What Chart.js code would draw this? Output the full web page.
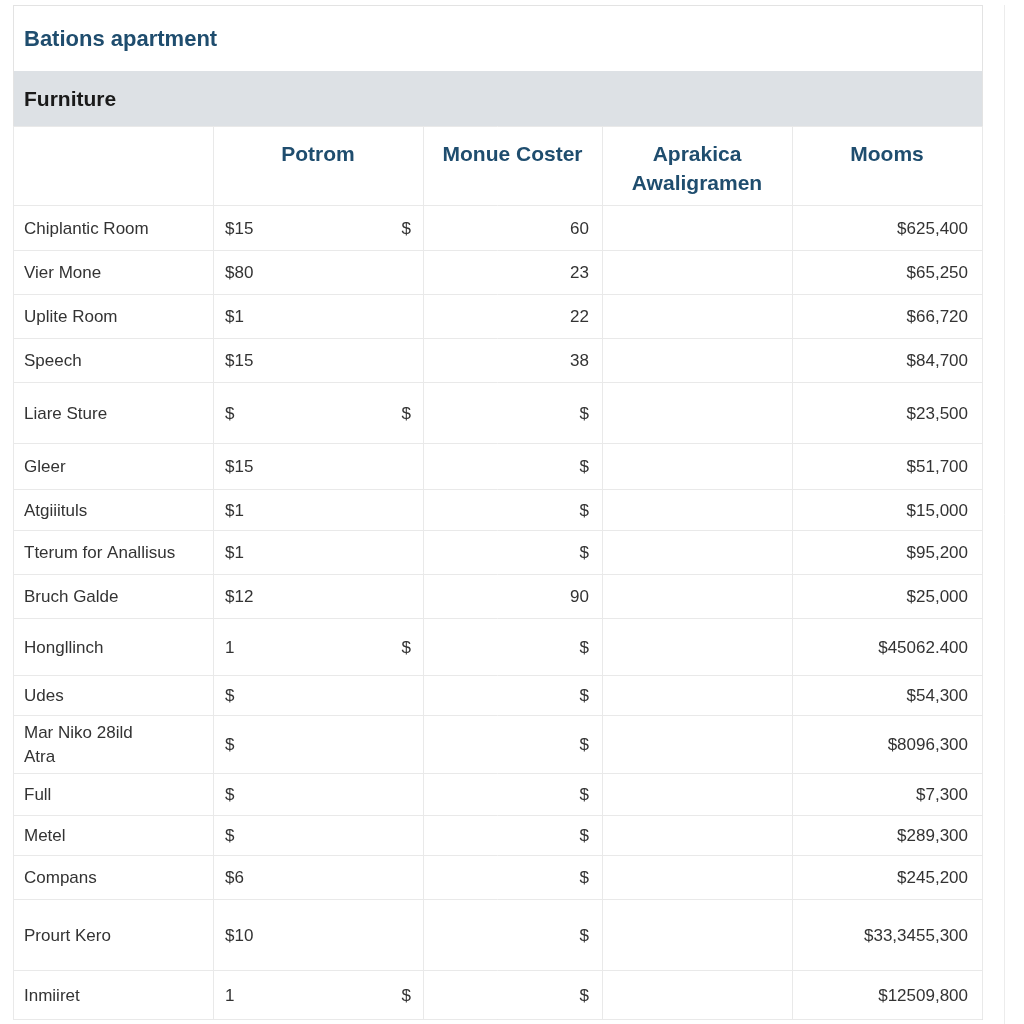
<!DOCTYPE html>
<html>
<head>
<meta charset="utf-8">
<title>Bations apartment</title>
<script src="https://cdn.jsdelivr.net/npm/chart.js@4.4.0/dist/chart.umd.min.js"></script>
<style>
  html, body { margin: 0; padding: 0; background: #ffffff; }
  #wrap { width: 1024px; height: 1024px; }
</style>
</head>
<body>
<div id="wrap"><canvas id="tableChart" width="1024" height="1024"></canvas></div>
<script>
// ---- table content ----
var tableTitle = "Bations apartment";
var sectionTitle = "Furniture";
var columnHeaders = ["", "Potrom", "Monue Coster", "Aprakica\nAwaligramen", "Mooms"];

var rowLabels = [
    "Chiplantic Room", "Vier Mone", "Uplite Room", "Speech", "Liare Sture",
    "Gleer", "Atgiiituls", "Tterum for Anallisus", "Bruch Galde", "Hongllinch",
    "Udes", "Mar Niko 28ild\nAtra", "Full", "Metel", "Compans",
    "Prourt Kero", "Inmiiret"
];
var potrom = ["$15", "$80", "$1", "$15", "$", "$15", "$1", "$1", "$12", "1",
    "$", "$", "$", "$", "$6", "$10", "1"];
var potromMark = ["$", "", "", "", "$", "", "", "", "", "$",
    "", "", "", "", "", "", "$"];
var monueCoster = ["60", "23", "22", "38", "$", "$", "$", "$", "90", "$",
    "$", "$", "$", "$", "$", "$", "$"];
var aprakica = ["", "", "", "", "", "", "", "", "", "",
    "", "", "", "", "", "", ""];
var mooms = ["$625,400", "$65,250", "$66,720", "$84,700", "$23,500", "$51,700",
    "$15,000", "$95,200", "$25,000", "$45062.400", "$54,300", "$8096,300",
    "$7,300", "$289,300", "$245,200", "$33,3455,300", "$12509,800"];

// ---- layout (px) ----
var colWidths = [200, 210, 179, 190, 190];
var headerHeight = 79;
var rowHeights = [45, 44, 44, 44, 61, 46, 41, 44, 44, 57, 40, 58, 42, 40, 44, 71, 49];

var BLUE = "#1f4d6e";
var TEXT = "#333333";
var LINE = "#e9e9e9";
var FONT = "'Liberation Sans', Arial, sans-serif";

function cumulative(list, start) {
    let res = [start];
    for (let i = 0; i < list.length; i++) {
        res.push(res[i] + list[i]);
    }
    return res;
}

var colEdges = cumulative(colWidths, 0);
var rowEdges = cumulative(rowHeights, headerHeight);

function rowMid(i) {
    return (rowEdges[i] + rowEdges[i + 1]) / 2;
}

// one invisible scatter series per column, text is painted on its points
function makeColumn(values, xValue, align) {
    return {
        data: values.map(function (v, i) { return { x: xValue, y: rowMid(i) }; }),
        cellText: values,
        align: align,
        pointRadius: 0,
        pointHoverRadius: 0,
        showLine: false
    };
}

var datasets = [
    makeColumn(rowLabels, colEdges[0] + 11, "left"),
    makeColumn(potrom, colEdges[1] + 12, "left"),
    makeColumn(potromMark, colEdges[2] - 12, "right"),
    makeColumn(monueCoster, colEdges[3] - 13, "right"),
    makeColumn(aprakica, (colEdges[3] + colEdges[4]) / 2, "center"),
    makeColumn(mooms, colEdges[5] - 14, "right")
];

var tablePlugin = {
    id: "tablePaint",
    beforeDraw: function (chart) {
        const ctx = chart.ctx;
        const area = chart.chartArea;
        ctx.save();
        ctx.fillStyle = "#ffffff";
        ctx.fillRect(0, 0, chart.width, chart.height);

        // card outline
        ctx.strokeStyle = "#e3e3e3";
        ctx.lineWidth = 1;
        ctx.strokeRect(area.left + 0.5, 5.5, area.right - area.left, area.bottom - 5);

        // neighbour panel edge
        ctx.strokeStyle = "#ececec";
        ctx.beginPath();
        ctx.moveTo(1004.5, 5);
        ctx.lineTo(1004.5, chart.height);
        ctx.stroke();

        // grey section band
        ctx.fillStyle = "#dde1e5";
        ctx.fillRect(area.left + 1, 71, area.right - area.left - 1, area.top - 71);

        ctx.textBaseline = "middle";
        ctx.textAlign = "left";
        ctx.fillStyle = BLUE;
        ctx.font = "bold 22px " + FONT;
        ctx.fillText(tableTitle, area.left + 11, 40);

        ctx.fillStyle = "#1a1a1a";
        ctx.font = "bold 21px " + FONT;
        ctx.fillText(sectionTitle, area.left + 11, 100);
        ctx.restore();
    },
    afterDatasetsDraw: function (chart) {
        const ctx = chart.ctx;
        const xs = chart.scales.x;
        const ys = chart.scales.y;
        ctx.save();
        ctx.textBaseline = "middle";

        // column headers
        ctx.fillStyle = BLUE;
        ctx.font = "bold 21px " + FONT;
        ctx.textAlign = "center";
        let top = ys.getPixelForValue(0);
        for (let c = 0; c < columnHeaders.length; c++) {
            let cx = xs.getPixelForValue((colEdges[c] + colEdges[c + 1]) / 2);
            let lines = columnHeaders[c].split("\n");
            for (let l = 0; l < lines.length; l++) {
                ctx.fillText(lines[l], cx, top + 29 + l * 29);
            }
        }

        // body cells
        ctx.fillStyle = TEXT;
        ctx.font = "17px " + FONT;
        chart.data.datasets.forEach(function (ds, i) {
            let meta = chart.getDatasetMeta(i);
            ctx.textAlign = ds.align;
            meta.data.forEach(function (pt, j) {
                let lines = ds.cellText[j].split("\n");
                let y0 = pt.y + 1.5 - (lines.length - 1) * 12;
                for (let l = 0; l < lines.length; l++) {
                    ctx.fillText(lines[l], pt.x, y0 + l * 24);
                }
            });
        });
        ctx.restore();
    }
};

function axis(maxValue, edges, reverse) {
    return {
        type: "linear",
        min: 0,
        max: maxValue,
        reverse: reverse,
        ticks: { display: false },
        grid: { color: LINE, lineWidth: 1, drawTicks: false },
        border: { display: false },
        afterBuildTicks: function (scale) {
            scale.ticks = edges.map(function (v) { return { value: v }; });
        }
    };
}

const ctx = document.getElementById("tableChart").getContext("2d");
var tableChart = new Chart(ctx, {
    type: "scatter",
    data: { datasets: datasets },
    options: {
        responsive: false,
        devicePixelRatio: 1,
        animation: false,
        events: [],
        layout: { padding: { left: 13, right: 42, top: 126, bottom: 5 } },
        plugins: {
            legend: { display: false },
            tooltip: { enabled: false }
        },
        scales: {
            x: axis(colEdges[colEdges.length - 1], colEdges, false),
            y: axis(rowEdges[rowEdges.length - 1], [0].concat(rowEdges), true)
        }
    },
    plugins: [tablePlugin]
});
</script>
</body>
</html>
